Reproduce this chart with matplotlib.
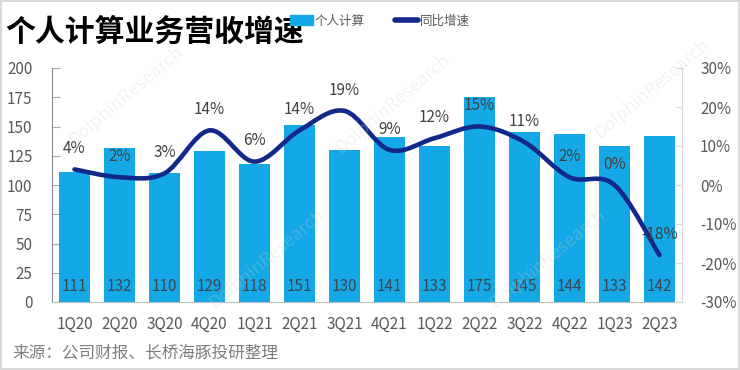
import matplotlib
matplotlib.use("Agg")
import matplotlib.pyplot as plt
from matplotlib.path import Path
from matplotlib.patches import PathPatch, Patch
from matplotlib.lines import Line2D
import numpy as np

plt.rcParams['font.family'] = ['Noto Sans CJK SC', 'DejaVu Sans']

# 数据
quarters = ['1Q20', '2Q20', '3Q20', '4Q20', '1Q21', '2Q21', '3Q21',
            '4Q21', '1Q22', '2Q22', '3Q22', '4Q22', '1Q23', '2Q23']
revenue = [111, 132, 110, 129, 118, 151, 130, 141, 133, 175, 145, 144, 133, 142]
growth = [4, 2, 3, 14, 6, 14, 19, 9, 12, 15, 11, 2, 0, -18]
left_ticks = [0, 25, 50, 75, 100, 125, 150, 175, 200]
right_ticks = [-30, -20, -10, 0, 10, 20, 30]

bar_color = '#14A9E6'
line_color = '#12298A'
text_gray = '#595959'


## 平滑曲线（Excel风格的Bezier）
def smooth_path(xs, ys):
    pts = list(zip(xs, ys))
    verts = [pts[0]]
    codes = [Path.MOVETO]
    n = len(pts)
    for i in range(n - 1):
        p0 = pts[i - 1] if i > 0 else pts[i]
        p1 = pts[i]
        p2 = pts[i + 1]
        p3 = pts[i + 2] if i + 2 < n else pts[i + 1]
        c1 = (p1[0] + (p2[0] - p0[0]) / 6, p1[1] + (p2[1] - p0[1]) / 6)
        c2 = (p2[0] - (p3[0] - p1[0]) / 6, p2[1] - (p3[1] - p1[1]) / 6)
        verts += [c1, c2, p2]
        codes += [Path.CURVE4] * 3
    return Path(verts, codes)


fig = plt.figure(figsize=(7.4, 3.7), dpi=100)
fig.patch.set_edgecolor('#D9D9D9')
fig.patch.set_linewidth(1.5)
ax = fig.add_axes([52 / 740, 1 - 302 / 370, 630 / 740, 234 / 370])
x = np.arange(len(quarters))

bars = ax.bar(x, revenue, width=0.69, color=bar_color, zorder=2)
for xi, v in zip(x, revenue):
    ax.text(xi, 13, str(v), ha='center', va='center', fontsize=11, color='#3A4552', zorder=3)

ax.set_xlim(-0.5, len(quarters) - 0.5)
ax.set_ylim(0, 200)
ax.set_yticks(left_ticks)
ax.set_xticks(x)
ax.set_xticklabels(quarters)
ax.tick_params(axis='x', length=0, pad=10, labelsize=11, labelcolor=text_gray)
ax.tick_params(axis='y', direction='in', length=6, color='#A6A6A6', pad=14,
               labelsize=11, labelcolor=text_gray)
ax.spines['top'].set_visible(False)
ax.spines['right'].set_visible(False)
ax.spines['left'].set_color('#8C8C8C')
ax.spines['bottom'].set_color('#BFBFBF')

ax2 = ax.twinx()
ax2.set_ylim(-30, 30)
ax2.set_yticks(right_ticks)
ax2.set_yticklabels([f'{t}%' for t in right_ticks])
ax2.tick_params(axis='y', direction='in', length=4, color='#D9D9D9', pad=13,
                labelsize=11, labelcolor=text_gray)
for s in ['top', 'left', 'bottom']:
    ax2.spines[s].set_visible(False)
ax2.spines['right'].set_color('#D9D9D9')

path = smooth_path(x, growth)
ax2.add_patch(PathPatch(path, facecolor='none', edgecolor=line_color, lw=3.3,
                        capstyle='round', joinstyle='round', zorder=4))
for xi, g in zip(x, growth):
    ax2.annotate(f'{g}%', (xi, g), xytext=(0, 15), textcoords='offset points',
                 ha='center', va='center', fontsize=11, color='#404040', zorder=5)

# 水印
for wx, wy in [(0.17, 0.74), (0.53, 0.72), (0.88, 0.76), (0.36, 0.30), (0.74, 0.30)]:
    fig.text(wx, wy, 'DolphinResearch', rotation=40, fontsize=13, color='#D0D0D0',
             alpha=0.25, ha='center', va='center', zorder=0)

# 标题与图例
fig.text(5 / 740, 1 - 32 / 370, '个人计算业务营收增速', fontsize=21.5, fontweight='heavy',
         ha='left', va='center', color='black')
handles = [Patch(color=bar_color),
           Line2D([0], [0], color=line_color, lw=4, solid_capstyle='round')]
fig.legend(handles, ['个人计算', '同比增速'], loc='center left',
           bbox_to_anchor=(290 / 740, 1 - 21 / 370), ncol=2, frameon=False,
           fontsize=9, handlelength=1.8, handleheight=0.8, handletextpad=0.2,
           columnspacing=2.4, borderpad=0, borderaxespad=0, labelcolor=text_gray)

fig.text(12 / 740, 1 - 353 / 370, '来源：公司财报、长桥海豚投研整理', fontsize=12,
         color='#7F7F7F', ha='left', va='center')

fig.savefig('out.png', dpi=100)
